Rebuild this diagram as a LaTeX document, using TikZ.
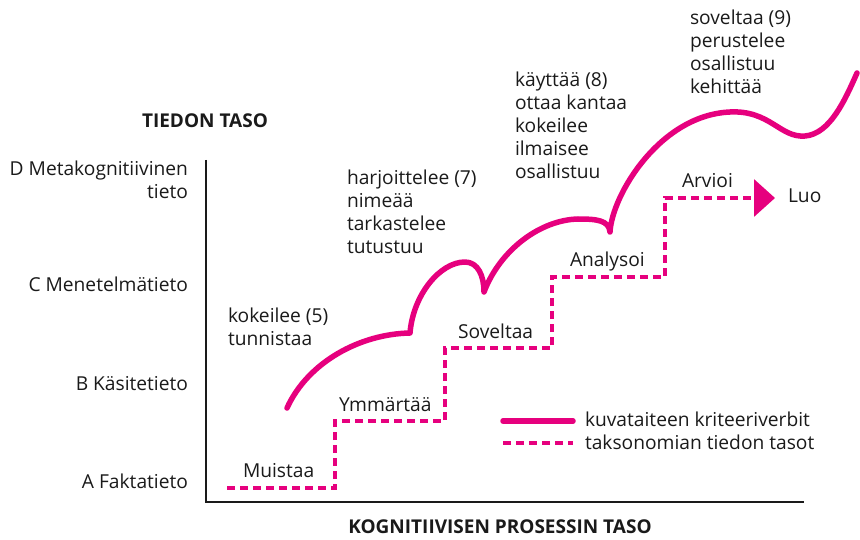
\documentclass[tikz,border=0pt]{standalone}
\usepackage{fontspec}
\setmainfont{Open Sans}
\usetikzlibrary{arrows.meta}
\definecolor{mag}{HTML}{E6007E}
\definecolor{ink}{HTML}{1A1A1A}

\begin{document}
\begin{tikzpicture}[x=1pt,y=-1pt,
  every node/.style={inner sep=0pt, outer sep=0pt, text=ink,
    font=\fontsize{19.2}{23}\selectfont},
  lbl/.style={anchor=base west},
  blk/.style={anchor=north west, align=left},
  ylbl/.style={anchor=base east},
  heading/.style={anchor=base, font=\fontsize{19}{23}\selectfont\bfseries},
  verbline/.style={draw=mag, line width=5.5pt, line cap=round, line join=round},
  levelline/.style={draw=mag, line width=3.4pt, dash pattern=on 8pt off 5pt},
  axis/.style={draw=ink, line width=2.5pt}]

\useasboundingbox (0,0) rectangle (860,540);

% axes
\coordinate (ytop) at (206,160);
\coordinate (orig) at (206,502);
\coordinate (xend) at (804,502);
\draw[axis] (ytop) -- (orig) -- (xend);

% axis titles
\node[heading] (ytitle) at (205,128) {TIEDON TASO};
\node[heading] (xtitle) at (500,533) {KOGNITIIVISEN PROSESSIN TASO};

% knowledge levels
\node[anchor=north east, align=right] (lvD) at (188,160.5) {D Metakognitiivinen\\tieto};
\node[ylbl] (lvC) at (188,292) {C Menetelmätieto};
\node[ylbl] (lvB) at (188,390) {B Käsitetieto};
\node[ylbl] (lvA) at (188,488) {A Faktatieto};

% taxonomy staircase
\coordinate (s0) at (227,488);
\coordinate (s1) at (335,488);
\coordinate (s2) at (335,421);
\coordinate (s3) at (445,421);
\coordinate (s4) at (445,348);
\coordinate (s5) at (552,348);
\coordinate (s6) at (552,277);
\coordinate (s7) at (665,277);
\coordinate (s8) at (665,198);
\coordinate (s9) at (775,198);
\draw[levelline, -{Triangle[length=21pt,width=37pt,fill=mag]}]
  (s0) -- (s1) -- (s2) -- (s3) -- (s4) -- (s5) -- (s6) -- (s7) -- (s8) -- (s9);

\node[lbl] (muistaa)  at (243,477) {Muistaa};
\node[lbl] (ymmartaa) at (339,411) {Ymmärtää};
\node[lbl] (soveltaa) at (458,338) {Soveltaa};
\node[lbl] (analysoi) at (570,267) {Analysoi};
\node[lbl] (arvioi)   at (682,188) {Arvioi};
\node[lbl] (luo)      at (788,203) {Luo};

% criteria verbs curve
\draw[verbline]
  (287,408) .. controls (308,362) and (360,334) .. (410,333)
  .. controls (413,295) and (440,262) .. (465,262)
  .. controls (478,262) and (484,276) .. (484,292)
  .. controls (500,250) and (540,220) .. (578,219)
  .. controls (596,219) and (609,220) .. (610,232)
  .. controls (612,195) and (660,115) .. (730,112)
  .. controls (770,110) and (780,138) .. (805,136)
  .. controls (830,134) and (845,100) .. (857,73);

% verb groups
\node[blk] (v5) at (228,307.5) {kokeilee (5)\\tunnistaa};
\node[blk] (v7) at (347,169.5) {harjoittelee (7)\\nimeää\\tarkastelee\\tutustuu};
\node[blk] (v8) at (515,71.5) {käyttää (8)\\ottaa kantaa\\kokeilee\\ilmaisee\\osallistuu};
\node[blk] (v9) at (690,9.5) {soveltaa (9)\\perustelee\\osallistuu\\kehittää};

% legend
\coordinate (la1) at (503,421);
\coordinate (la2) at (573,421);
\coordinate (lb1) at (503,443);
\coordinate (lb2) at (573,443);
\draw[verbline] (la1) -- (la2);
\draw[levelline] (lb1) -- (lb2);
\node[lbl] (legA) at (585,426) {kuvataiteen kriteeriverbit};
\node[lbl] (legB) at (585,449) {taksonomian tiedon tasot};
\end{tikzpicture}
\end{document}
